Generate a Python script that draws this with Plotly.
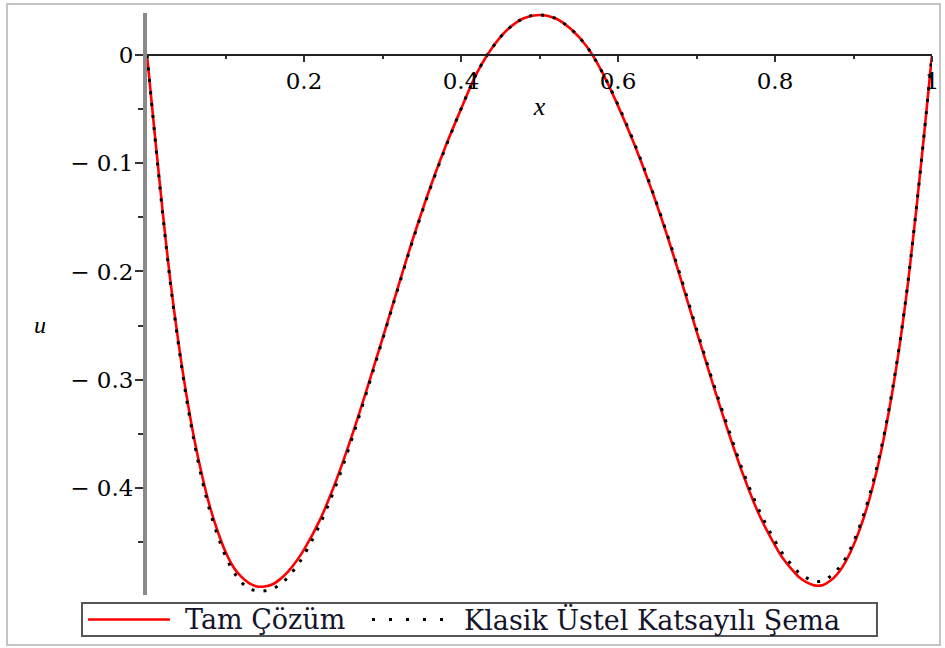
import plotly.graph_objects as go

# ---- data ----
x_vals = [0.00, 0.01, 0.02, 0.03, 0.04, 0.05, 0.06, 0.07, 0.08, 0.09,
          0.10, 0.11, 0.12, 0.13, 0.14, 0.15, 0.16, 0.17, 0.18, 0.19,
          0.20, 0.22, 0.24, 0.26, 0.28, 0.30, 0.32, 0.34, 0.36, 0.38,
          0.40, 0.42, 0.44, 0.46, 0.48, 0.50, 0.52, 0.54, 0.56, 0.58,
          0.60, 0.62, 0.64, 0.66, 0.68, 0.70, 0.72, 0.74, 0.76, 0.78,
          0.80, 0.81, 0.82, 0.83, 0.84, 0.85, 0.86, 0.87, 0.88, 0.89,
          0.90, 0.91, 0.92, 0.93, 0.94, 0.95, 0.96, 0.97, 0.98, 0.99, 1.00]

u_exact = [0.000, -0.074, -0.145, -0.210, -0.265, -0.313, -0.354, -0.388, -0.417, -0.440,
           -0.459, -0.473, -0.482, -0.488, -0.491, -0.491, -0.489, -0.484, -0.477, -0.468,
           -0.457, -0.430, -0.395, -0.354, -0.309, -0.262, -0.214, -0.167, -0.124, -0.085,
           -0.050, -0.017, 0.007, 0.024, 0.034, 0.037, 0.034, 0.024, 0.008, -0.016,
           -0.047, -0.081, -0.119, -0.161, -0.207, -0.255, -0.302, -0.347, -0.389, -0.425,
           -0.453, -0.465, -0.474, -0.482, -0.487, -0.490, -0.490, -0.486, -0.479, -0.468,
           -0.453, -0.434, -0.411, -0.383, -0.349, -0.309, -0.262, -0.207, -0.143, -0.073, 0.000]

u_scheme = [0.000, -0.075, -0.147, -0.212, -0.267, -0.316, -0.357, -0.392, -0.421, -0.444,
            -0.463, -0.477, -0.487, -0.493, -0.495, -0.495, -0.493, -0.489, -0.482, -0.473,
            -0.462, -0.434, -0.399, -0.357, -0.311, -0.263, -0.215, -0.168, -0.125, -0.086,
            -0.050, -0.017, 0.007, 0.024, 0.034, 0.037, 0.034, 0.024, 0.008, -0.016,
            -0.046, -0.080, -0.118, -0.160, -0.205, -0.253, -0.300, -0.344, -0.386, -0.421,
            -0.449, -0.461, -0.470, -0.478, -0.483, -0.486, -0.486, -0.482, -0.475, -0.465,
            -0.450, -0.431, -0.408, -0.380, -0.347, -0.307, -0.261, -0.206, -0.142, -0.073, 0.000]

series_names = ["Tam Çözüm", "Klasik Üstel Katsayılı Şema"]

x_tick_vals = [0.2, 0.4, 0.6, 0.8, 1.0]
x_tick_text = ["0.2", "0.4", "0.6", "0.8", "1"]
x_minor_vals = [0.1, 0.3, 0.5, 0.7, 0.9]
y_tick_vals = [0.0, -0.1, -0.2, -0.3, -0.4]
y_tick_text = ["0", "− 0.1", "− 0.2", "− 0.3", "− 0.4"]
y_minor_vals = [-0.05, -0.15, -0.25, -0.35, -0.45]

y_range = [-0.4989, 0.0388]
x_range = [0.0, 1.0]

SERIF = "DejaVu Serif"
RED = "#ff0000"
DOT_DASH = "3px,9px"

fig = go.Figure()
fig.add_trace(go.Scatter(
    x=x_vals, y=u_exact, mode="lines", name=series_names[0], cliponaxis=False,
    line=dict(color=RED, width=2.6, shape="spline", smoothing=1.0),
))
fig.add_trace(go.Scatter(
    x=x_vals, y=u_scheme, mode="lines", name=series_names[1], cliponaxis=False,
    line=dict(color="#000000", width=3, dash=DOT_DASH, shape="spline", smoothing=1.0),
))

xpos = (0 - y_range[0]) / (y_range[1] - y_range[0])

# plot area in pixels: x 147..932, y 13..595  (height 582)
PH = 582.0
def py(p):
    return (595.0 - p) / PH

# ---- legend drawn as a framed box below the plot (paper coordinates) ----
lg_x0, lg_x1, lg_y0, lg_y1 = -0.0828, 0.9299, py(636), py(603)
lg_y = (lg_y0 + lg_y1) / 2
legend_shapes = [
    dict(type="rect", xref="paper", yref="paper", x0=lg_x0, x1=lg_x1, y0=lg_y0, y1=lg_y1,
         line=dict(color="#555555", width=2), fillcolor="white", layer="above"),
    dict(type="line", xref="paper", yref="paper", x0=-0.0752, x1=0.0293, y0=lg_y, y1=lg_y,
         line=dict(color=RED, width=2.6), layer="above"),
    dict(type="line", xref="paper", yref="paper", x0=0.2866, x1=0.3860, y0=lg_y, y1=lg_y,
         line=dict(color="#000000", width=3, dash="3px,14px"), layer="above"),
]
legend_texts = [
    dict(text=series_names[0], xref="paper", yref="paper", x=0.0459, y=lg_y,
         xanchor="left", yanchor="middle", showarrow=False,
         font=dict(family=SERIF, size=27, color="#14142a")),
    dict(text=series_names[1], xref="paper", yref="paper", x=0.4013, y=lg_y,
         xanchor="left", yanchor="middle", showarrow=False,
         font=dict(family=SERIF, size=27, color="#14142a")),
]

fig.update_layout(
    width=945, height=648,
    margin=dict(l=147, r=13, t=13, b=53, autoexpand=False),
    paper_bgcolor="white", plot_bgcolor="white",
    font=dict(family=SERIF, color="#000000"),
    showlegend=False,
    xaxis=dict(
        range=x_range, anchor="free", position=xpos,
        showgrid=False, zeroline=False, showline=True,
        linecolor="#222222", linewidth=1.5,
        ticks="outside", ticklen=6, tickwidth=1.5, tickcolor="#333333",
        tickvals=x_tick_vals, ticktext=x_tick_text,
        tickfont=dict(family=SERIF, size=23, color="#000000"),
        minor=dict(tickvals=x_minor_vals, ticks="outside", ticklen=3,
                   tickwidth=1.5, tickcolor="#333333"),
        title=dict(text="<i>x</i>", font=dict(family="Liberation Serif", size=26),
                   standoff=2),
    ),
    yaxis=dict(
        range=y_range, showgrid=False, zeroline=False, showline=True,
        linecolor="#8a8a8a", linewidth=4,
        ticks="outside", ticklen=8, tickwidth=1.5, tickcolor="#333333",
        tickvals=y_tick_vals, ticktext=y_tick_text, ticklabelstandoff=-3,
        tickfont=dict(family=SERIF, size=23, color="#000000"),
        minor=dict(tickvals=y_minor_vals, ticks="outside", ticklen=5,
                   tickwidth=1.5, tickcolor="#333333"),
    ),
    annotations=[dict(
        text="<i>u</i>", xref="paper", yref="paper", x=-0.1363, y=py(325),
        xanchor="center", yanchor="middle",
        showarrow=False, font=dict(family="Liberation Serif", size=24, color="#000000"),
    )] + legend_texts,
    shapes=[dict(
        type="rect", xref="paper", yref="paper",
        x0=-0.1783, x1=1.0102, y0=py(645), y1=py(4),
        line=dict(color="#c4c4c4", width=2), fillcolor="rgba(0,0,0,0)", layer="below",
    )] + legend_shapes,
)

fig.write_html("out.html", config={"displayModeBar": False},
               post_script="document.body.style.margin='0';")
